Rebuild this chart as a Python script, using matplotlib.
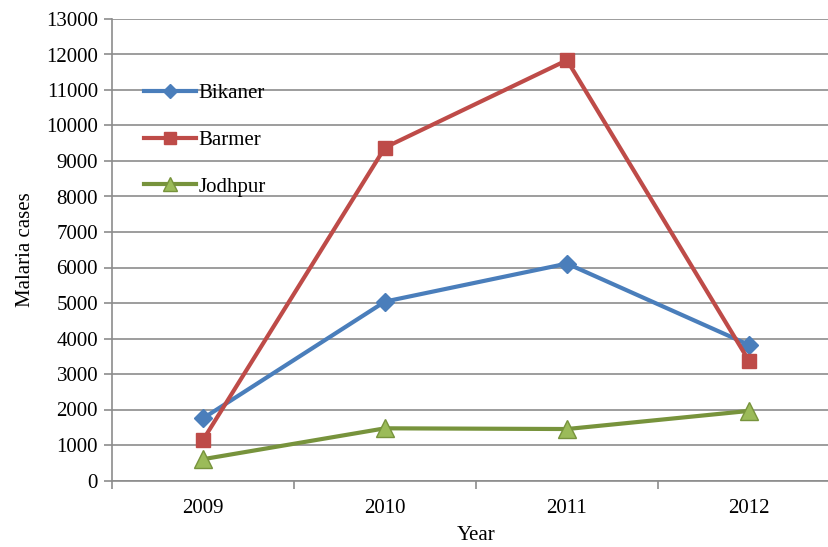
import matplotlib
matplotlib.use("Agg")
import matplotlib.pyplot as plt

plt.rcParams["font.family"] = ["Liberation Serif", "DejaVu Serif"]

# Data
years = ["2009", "2010", "2011", "2012"]
bikaner = [1750, 5040, 6110, 3820]
barmer = [1140, 9380, 11840, 3370]
jodhpur = [600, 1470, 1450, 1960]

grid_col = "#8c8c8c"

fig = plt.figure(figsize=(8.29, 5.47), dpi=100)
ax = fig.add_axes([112 / 829, 1 - 480.5 / 547, 728 / 829, (480.5 - 19) / 547])

x = list(range(len(years)))
ax.plot(x, bikaner, color="#4A7EBB", lw=3, marker="D", ms=9.5,
        mfc="#4A7EBB", mec="#4A7EBB", label="Bikaner", zorder=3)
ax.plot(x, barmer, color="#BE4B48", lw=3, marker="s", ms=10.5,
        mfc="#BE4B48", mec="#BE4B48", label="Barmer", zorder=3)
ax.plot(x, jodhpur, color="#77933C", lw=3, marker="^", ms=12.5,
        mfc="#9BBB59", mec="#77933C", label="Jodhpur", zorder=3)

ax.set_xlim(-0.5, 3.5)
ax.set_ylim(0, 13000)
ax.set_yticks(range(0, 13001, 1000))
ax.set_xticks(x)
ax.set_xticklabels(years)
ax.set_xticks([-0.5, 0.5, 1.5, 2.5, 3.5], minor=True)
ax.tick_params(axis="x", which="major", length=0, pad=13, labelsize=15)
ax.tick_params(axis="x", which="minor", length=6, color=grid_col, width=1.2)
ax.tick_params(axis="y", length=6, color=grid_col, width=1.2, labelsize=15, pad=4)

ax.grid(axis="y", color=grid_col, lw=1.2)
ax.set_axisbelow(True)
for side in ["top", "right"]:
    ax.spines[side].set_visible(False)
for side in ["left", "bottom"]:
    ax.spines[side].set_color(grid_col)
    ax.spines[side].set_linewidth(1.2)

ax.set_xlabel("Year", fontsize=15, labelpad=6)
ax.set_ylabel("Malaria cases", fontsize=15, labelpad=8)

leg = ax.legend(loc="upper left", bbox_to_anchor=(0.033, 0.878), frameon=False,
                fontsize=15, handlelength=2.5, labelspacing=1.3,
                handletextpad=0.1, borderaxespad=0, markerscale=0.8)

fig.savefig("out.png", dpi=100)
